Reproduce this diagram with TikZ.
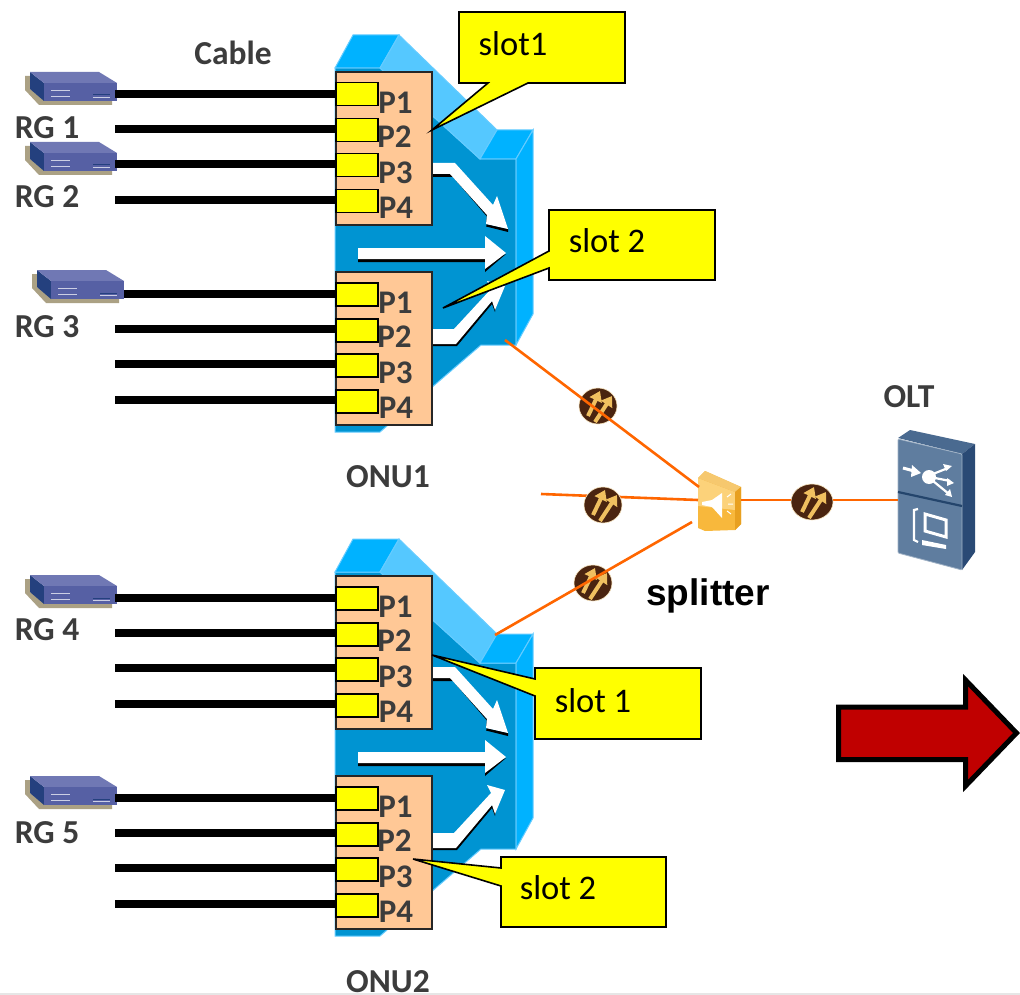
\documentclass[tikz,border=0pt]{standalone}
\usepackage{fontspec}
\usetikzlibrary{arrows.meta}
\setmainfont{Carlito}
\newfontfamily\arialfont{Liberation Sans}
\definecolor{pureyellow}{RGB}{255,255,0}
\definecolor{onufront}{HTML}{0094D2}
\definecolor{onutop}{HTML}{00B2FF}
\definecolor{onulight}{HTML}{55C8FF}
\definecolor{onuedge}{HTML}{66CCFF}
\definecolor{peach}{HTML}{FFC896}
\definecolor{labelgrey}{HTML}{3C3C3C}
\definecolor{fibre}{HTML}{FF6600}
\definecolor{rgtop}{HTML}{7078B4}
\definecolor{rgfront}{HTML}{5660A4}
\definecolor{rgside}{HTML}{24407E}
\definecolor{rgshadow}{HTML}{ABA184}
\definecolor{oltfront}{HTML}{5F7D9F}
\definecolor{oltside}{HTML}{2A4A75}
\definecolor{olttop}{HTML}{4A6A90}
\definecolor{oltline}{HTML}{24456C}
\definecolor{ampdark}{HTML}{4A2410}
\definecolor{amparrow}{HTML}{F0C060}
\definecolor{splitbody}{HTML}{F8B83C}
\definecolor{splitside}{HTML}{E8A020}
\definecolor{splittop}{HTML}{F6C86E}
\definecolor{splitpale}{HTML}{FCD27A}
\definecolor{arrowred}{HTML}{C00000}
\definecolor{pagestrip}{HTML}{E6E6E6}
\tikzset{
 x=1pt,y=-1pt,
 cablebar/.style={line width=8.4pt,black},
 slotbox/.style={draw=black!85,line width=1.6pt,fill=peach,inner sep=0,minimum width=96pt,minimum height=153pt,anchor=north west},
 portbox/.style={draw=black,line width=1.5pt,fill=pureyellow,inner sep=0,minimum width=42pt,minimum height=23pt,anchor=north west},
 portlabel/.style={font=\fontsize{33}{33}\selectfont\bfseries,text=labelgrey,inner sep=0},
 biglabel/.style={font=\fontsize{33.5}{33.5}\selectfont\bfseries,text=labelgrey,inner sep=0},
 callout/.style={draw=black,line width=1.6pt,fill=pureyellow,line join=miter},
 callouttext/.style={font=\fontsize{34.5}{34.5}\selectfont,text=black,inner sep=0},
 fibreline/.style={draw=fibre,line width=2.6pt},
 whitearrow/.style={fill=white,draw=none},
 arrowshadow/.style={fill=black,draw=none},
 ampshaft/.style={amparrow,line width=4pt,-{Triangle[length=10pt,width=13pt]}},
}
\newcommand{\rgicon}[3]{%
 \begin{scope}[shift={(#1,#2)}]
 \fill[rgshadow] (-5,4) -- (-5,18) -- (9,33) -- (82,33) -- (82,28) -- (14,28) -- (0,17) -- (0,4) -- cycle;
 \fill[rgside] (0,0) -- (14,11) -- (14,29) -- (0,17) -- cycle;
 \fill[rgtop] (0,0) -- (69,0) -- (87,11) -- (14,11) -- cycle;
 \fill[rgfront] (14,11) -- (87,11) -- (87,29) -- (14,29) -- cycle;
 \draw[white!70!rgfront,line width=.9pt] (21,18) -- (40,18) (21,24) -- (40,24);
 \draw[rgside,line width=1pt] (63,23) -- (80,23);
 \draw[white!70!rgfront,line width=.7pt] (63,25) -- (80,25);
 \coordinate (#3) at (85,22);
 \end{scope}}
\newcommand{\slotcard}[2]{%
 \begin{scope}[shift={(0,#1)}]
 \node[slotbox] (#2) at (335,0) {};
 \foreach \n/\py/\ly/\lx/\cy in {1/11/32/395.5/23,2/47/66/394.5/58,3/82/102/395.5/93,4/118/137/396/129}{
   \coordinate (#2cf\n) at (115,\cy);
   \coordinate (#2ct\n) at (335,\cy);
   \draw[cablebar] (#2cf\n) -- (#2ct\n);
   \node[portbox] (#2pt\n) at (335,\py) {};
   \node[portlabel] (#2lb\n) at (\lx,\ly) {P\n};
 }
 \end{scope}}
\newcommand{\onubody}[1]{%
 \begin{scope}[shift={(0,#1)}]
 \fill[onufront,draw=onuedge,line width=1pt] (335,68) -- (380,68) -- (480,159) -- (516,159) -- (516,345) -- (481,345) -- (380,432) -- (335,432) -- cycle;
 \fill[onutop,draw=onuedge,line width=1pt] (335,68) -- (353,35) -- (399,35) -- (380,68) -- cycle;
 \fill[onulight,draw=onuedge,line width=1pt] (380,68) -- (399,35) -- (497,130) -- (480,159) -- cycle;
 \fill[onutop,draw=onuedge,line width=1pt] (480,159) -- (497,130) -- (533,130) -- (516,159) -- cycle;
 \fill[onutop,draw=onuedge,line width=1pt] (516,159) -- (533,130) -- (533,314) -- (516,345) -- cycle;
 \end{scope}}
\newcommand{\onuarrows}[1]{%
 \begin{scope}[shift={(0,#1)}]
 % bent arrow, upper
 \fill[arrowshadow] (431,174) -- (431,177) -- (453,177) -- (489,219) -- (486,226.5) -- (508,232) -- (508,229) -- (486,224) -- (487,215) -- (450,173) -- cycle;
 \fill[whitearrow] (431,163) -- (455,163) -- (493,205) -- (497,196) -- (508,229) -- (486,224) -- (487,215) -- (450,174) -- (431,174) -- cycle;
 % straight arrow
 \fill[arrowshadow] (358,254) -- (485,254) -- (485,272) -- (506,254) -- (485,262) -- (358,262) -- cycle;
 \fill[whitearrow] (358,248) -- (485,248) -- (485,236) -- (506,253) -- (485,269) -- (485,259) -- (358,259) -- cycle;
 % bent arrow, lower
 \fill[arrowshadow] (431,343) -- (431,346) -- (457,346) -- (492,304) -- (495,312) -- (496,305) -- (493,300) -- (456,343) -- cycle;
 \fill[whitearrow] (431,329) -- (454,329) -- (491,289) -- (487,281) -- (505,286) -- (495,310) -- (492,301) -- (456,344) -- (431,344) -- cycle;
 \end{scope}}
\newcommand{\ampbadge}[3]{%
 \begin{scope}[shift={(#1,#2)}]
 \fill[ampdark,draw=white!60!amparrow,line width=.6pt] (0,0) ellipse (#3 and 18);
 \coordinate (ampa) at (-10,10); \coordinate (ampb) at (2,-15);
 \coordinate (ampc) at (-3,16); \coordinate (ampd) at (14,-10);
 \draw[ampshaft] (ampa) -- (ampb);
 \draw[ampshaft] (ampc) -- (ampd);
 \end{scope}}
\begin{document}
\begin{tikzpicture}
\useasboundingbox (0,0) rectangle (1020,995);
\fill[white] (0,0) rectangle (1020,995);
\fill[pagestrip] (0,993) rectangle (1020,995);

\onubody{0}
\onubody{504}
\onuarrows{0}
\onuarrows{504}

\rgicon{30}{72}{rga}
\rgicon{30}{142}{rgb}
\rgicon{30}{575}{rgd}
\rgicon{30}{776}{rge}

\slotcard{71}{aa}
\slotcard{271}{ab}
\slotcard{575}{ba}
\slotcard{775}{bb}

\rgicon{37}{270}{rgc}

\node[biglabel] (tcable) at (233,53) {Cable};
\node[biglabel] (trg1) at (47,128) {RG 1};
\node[biglabel] (trg2) at (47,197) {RG 2};
\node[biglabel] (trg3) at (47,327) {RG 3};
\node[biglabel] (trg4) at (47,630) {RG 4};
\node[biglabel] (trg5) at (47,833) {RG 5};
\node[biglabel] (tonu1) at (388,477) {ONU1};
\node[biglabel] (tonu2) at (388,982) {ONU2};
\node[biglabel] (tolt) at (909,397) {OLT};
\node[font=\arialfont\fontsize{37}{37}\selectfont\bfseries,text=black,inner sep=0] (tsplit) at (708,596) {splitter};

\ampbadge{598}{406}{19}
\ampbadge{593}{583}{19}

% Splitter
\begin{scope}
 \fill[splitbody] (698,478) -- (705,471) -- (741,487) -- (741,524) -- (735,530) -- (705,531) -- (698,528) -- cycle;
 \fill[splitpale] (698,478) -- (735,492) -- (735,510) -- (698,506) -- cycle;
 \fill[splittop] (698,478) -- (705,471) -- (741,487) -- (735,492) -- cycle;
 \fill[splitside] (735,492) -- (741,487) -- (741,524) -- (735,530) -- cycle;
 \fill[white] (702,502) -- (712,500) -- (722,493) -- (722,518) -- (712,507) -- (702,505) -- cycle;
 \draw[white,line width=1pt] (727,497) -- (731,494) (728,504) -- (733,504) (727,511) -- (731,514);
 \coordinate (splitnw) at (699,487);
 \coordinate (splitw) at (698,500);
 \coordinate (splitsw) at (692,522);
 \coordinate (spliteast) at (741,500);
\end{scope}

% OLT
\begin{scope}
 \fill[olttop] (898,438) -- (910,430) -- (975,444) -- (962,454) -- cycle;
 \fill[oltside] (962,454) -- (975,444) -- (975,552) -- (962,570) -- cycle;
 \fill[oltfront,draw=white!40!oltfront,line width=.8pt,rounded corners=1pt] (898,439) -- (962,454) -- (962,570) -- (898,553) -- cycle;
 \draw[oltline,line width=2.2pt] (898,492) -- (962,506);
 \draw[white,line width=3pt] (903,468) -- (914,471);
 \fill[white] (912,465) -- (921,473) -- (911,477) -- cycle;
 \fill[white] (929,477) circle (7);
 \draw[white,line width=2.2pt] (933,474) -- (948,468) (935,478) -- (950,481) (933,481) -- (949,494);
 \fill[white] (952,466) -- (943,464) -- (946,471) -- cycle;
 \fill[white] (954,483) -- (947,478) -- (947,486) -- cycle;
 \fill[white] (952,497) -- (945,495) -- (950,489) -- cycle;
 \draw[white,line width=2.2pt] (918,509) -- (914,510) -- (914,540) -- (918,542);
 \draw[white,line width=3pt] (925,514) -- (946,520) -- (946,537) -- (925,531) -- cycle;
 \fill[white] (922,540) -- (946,545) -- (946,549) -- (922,545) -- cycle;
 \coordinate (oltw) at (898,500);
\end{scope}

% fibres
\coordinate (onuaout) at (505,340);
\coordinate (onubout) at (495,635);
\coordinate (freeend) at (541,494);
\draw[fibreline] (onuaout) -- (splitnw);
\draw[fibreline] (freeend) -- (splitw);
\draw[fibreline] (splitsw) -- (onubout);
\draw[fibreline] (spliteast) -- (oltw);
\ampbadge{603}{505}{19}
\ampbadge{812}{502}{21}

% callouts
\coordinate (tip1) at (432,130);
\coordinate (tip2) at (443,308);
\coordinate (tip3) at (432,655);
\coordinate (tip4) at (413,859);
\draw[callout] (459,12) -- (625,12) -- (625,83) -- (528,83) -- (tip1) -- (488,83) -- (459,83) -- cycle;
\node[callouttext] (c1) at (513,44) {slot1};
\draw[callout] (549,210) -- (715,210) -- (715,280) -- (549,280) -- (549,268) -- (tip2) -- (549,251) -- cycle;
\node[callouttext] (c2) at (607,241) {slot 2};
\draw[callout] (535,668) -- (701,668) -- (701,739) -- (535,739) -- (535,696) -- (tip3) -- (535,679) -- cycle;
\node[callouttext] (c3) at (593,701) {slot 1};
\draw[callout] (501,857) -- (666,857) -- (666,927) -- (501,927) -- (501,886) -- (tip4) -- (501,868) -- cycle;
\node[callouttext] (c4) at (558,888) {slot 2};

% red arrow
\draw[draw=black,line width=5pt,fill=arrowred,line join=miter] (838.5,707) -- (965.5,707) -- (965.5,680) -- (1016.5,733) -- (965.5,786) -- (965.5,759.5) -- (838.5,759.5) -- cycle;
\end{tikzpicture}
\end{document}
